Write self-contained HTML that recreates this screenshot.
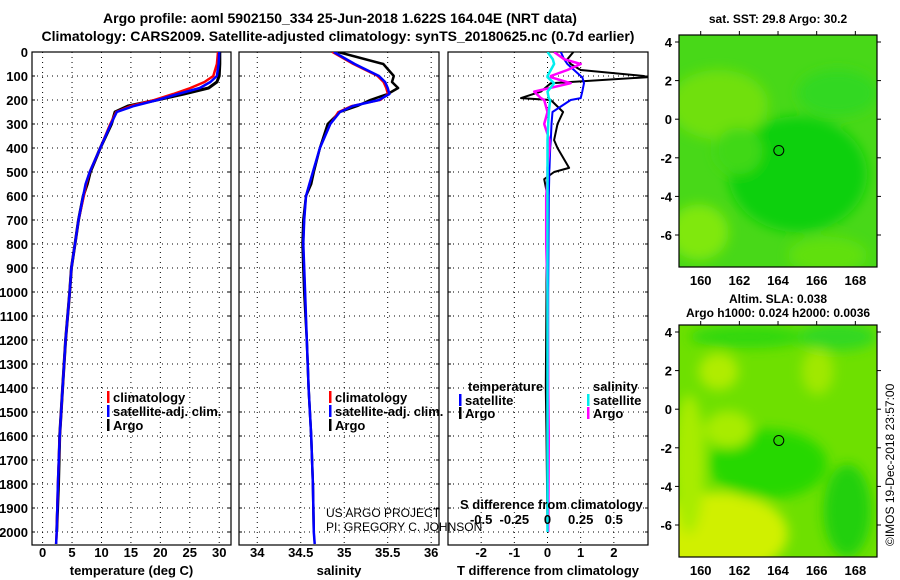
<!DOCTYPE html>
<html><head><meta charset="utf-8"><style>
html,body{margin:0;padding:0;background:#fff;}
svg{display:block;font-family:"Liberation Sans",Arial,sans-serif;font-weight:bold;}
</style></head><body>
<svg id="chart" width="900" height="580" viewBox="0 0 900 580" xmlns="http://www.w3.org/2000/svg">
<defs>
<filter id="blur6"><feGaussianBlur stdDeviation="6"/></filter>
<clipPath id="clipm1"><rect x="679" y="35" width="198" height="232"/></clipPath>
<clipPath id="clipm2"><rect x="679" y="325" width="198" height="232"/></clipPath>
<clipPath id="clipp1"><rect x="32" y="52" width="199" height="493"/></clipPath>
<clipPath id="clipp2"><rect x="239" y="52" width="200" height="493"/></clipPath>
<clipPath id="clipp3"><rect x="448" y="52" width="200" height="493"/></clipPath>
</defs>
<text x="340" y="23" font-size="14" text-anchor="middle">Argo profile: aoml 5902150_334 25-Jun-2018 1.622S 164.04E (NRT data)</text>
<text x="338" y="41" font-size="14" text-anchor="middle">Climatology: CARS2009. Satellite-adjusted climatology: synTS_20180625.nc (0.7d earlier)</text>
<g id="g-maps"></g>
<g id="g-panels"></g>
</svg>
<script>
// ---------- data ----------
const depths = [0,50,100,125,150,175,200,225,250,300,400,500,550,600,700,800,900,1000,1200,1400,1600,1800,2000,2050];
const tempArgo = [30.1,30.1,30.0,29.6,28.2,24.0,19.4,14.5,12.3,11.7,9.8,8.1,7.6,6.9,6.1,5.5,4.9,4.6,3.9,3.4,2.9,2.7,2.4,null];
const tempClim = [29.8,29.6,29.0,27.5,25.1,22.2,19.0,15.0,12.5,11.5,9.8,8.0,7.4,7.0,6.1,5.5,4.9,4.6,3.9,3.4,2.9,2.6,2.4,2.3];
const tempSat  = [30.0,29.9,29.6,28.5,26.7,23.0,19.5,15.5,12.6,11.6,9.8,8.0,7.3,6.9,6.1,5.5,4.9,4.6,3.9,3.4,2.9,2.6,2.4,2.3];
const salArgo = [34.93,35.45,35.57,35.55,35.62,35.5,35.3,35.15,34.95,34.81,34.72,34.65,34.62,34.56,34.53,34.52,34.53,34.54,34.57,34.59,34.62,34.64,34.65,null];
const salClim = [34.86,35.1,35.38,35.45,35.48,35.5,35.42,35.08,34.93,34.84,34.72,34.64,34.6,34.56,34.54,34.53,34.54,34.55,34.57,34.59,34.62,34.64,34.65,34.66];
const salSat  = [34.88,35.12,35.4,35.47,35.5,35.52,35.4,35.1,34.95,34.84,34.72,34.64,34.6,34.56,34.54,34.53,34.54,34.55,34.57,34.59,34.62,34.64,34.65,34.66];
const dDepths = [0,30,50,75,100,105,130,165,192,200,250,300,367,400,483,500,530,600,800,1000,1400,1600,2000];
const tDiffArgo = [0.78,0.6,0.7,1.0,2.9,3.0,0.1,-0.2,-0.8,0.1,0.47,0.3,0.2,0.3,0.65,0.2,-0.1,0.0,-0.03,-0.03,-0.05,-0.03,0.0];
const tDiffSat  = [0.4,0.5,0.6,0.8,1.0,1.05,1.1,1.05,1.0,0.7,0.15,0.12,0.1,0.08,0.06,0.05,0.05,0.04,0.03,0.02,0.02,0.02,0.02];
const sDiffSat  = [0.0,0.04,0.05,0.025,0.0,0.0,0.05,0.0,0.01,0.02,0.01,0.005,0.0,0.0,0.0,0.0,0.0,0.0,0.0,0.0,0.0,0.0,0.0];
const sDiffArgo = [0.05,0.125,0.25,0.15,0.025,0.025,0.175,-0.1,-0.05,-0.025,0.0,-0.025,0.015,0.015,0.0,0.0,0.0,-0.01,-0.01,0.0,0.005,0.01,0.005];
const depthTicks = [0,100,200,300,400,500,600,700,800,900,1000,1100,1200,1300,1400,1500,1600,1700,1800,1900,2000];
const tTicks = [0,5,10,15,20,25,30];
const sTicks = [34,34.5,35,35.5,36];
const dTTicks = [-2,-1,0,1,2];
const dSTicks = [-0.5,-0.25,0,0.25,0.5];
const latTicks = [4,2,0,-2,-4,-6];
const lonTicks = [160,162,164,166,168];
const floatLon = 164.04, floatLat = -1.62;

const NS='http://www.w3.org/2000/svg';
function el(tag, attrs, parent, txt){const e=document.createElementNS(NS,tag);for(const k in attrs)e.setAttribute(k,attrs[k]);if(txt!==undefined)e.textContent=txt;parent.appendChild(e);return e;}
const gP=document.getElementById('g-panels');
const gM=document.getElementById('g-maps');
const Y0=52,Y1=545;
const yD = d => Y0 + d*0.24;
const S_TO_T = 4;

function makeX(left,right,vmin,vmax){return v => left + (v-vmin)/(vmax-vmin)*(right-left);}
const panels=[
 {name:'temperature-panel',l:32,r:231,min:-1.8,max:32,ticks:tTicks,grid:tTicks,label:'temperature (deg C)',clip:'clipp1'},
 {name:'salinity-panel',l:239,r:439,min:33.79,max:36.09,ticks:sTicks,grid:sTicks,label:'salinity',clip:'clipp2'},
 {name:'difference-panel',l:448,r:648,min:-3,max:3.03,ticks:dTTicks,grid:dTTicks,label:'T difference from climatology',clip:'clipp3'}
];
panels.forEach((p,pi)=>{
  const g=el('g',{},gP);
  
  
  const X=makeX(p.l,p.r,p.min,p.max); p.X=X;
  depthTicks.forEach(d=>{ if(d===0) return;
    const ln=el('line',{x1:p.l,x2:p.r,y1:yD(d),y2:yD(d),stroke:'#000','stroke-width':1,'stroke-dasharray':'1,4'},g);
    
    
    el('line',{x1:p.l,x2:p.l+3,y1:yD(d),y2:yD(d),stroke:'#000'},g);
    el('line',{x1:p.r-3,x2:p.r,y1:yD(d),y2:yD(d),stroke:'#000'},g);
  });
  p.grid.forEach(v=>{
    const ln=el('line',{x1:X(v),x2:X(v),y1:Y0,y2:Y1,stroke:'#000','stroke-width':1,'stroke-dasharray':'1,4'},g);
    
    
  });
  p.ticks.forEach(v=>{
    const t=el('text',{x:X(v),y:557,'font-size':13,'text-anchor':'middle'},g,String(v));
    
    
  });
  const lab=el('text',{x:(p.l+p.r)/2,y:575,'font-size':13,'text-anchor':'middle'},g,p.label);
  
  
  const fr=el('rect',{x:p.l,y:Y0,width:p.r-p.l,height:Y1-Y0,fill:'none',stroke:'#000','stroke-width':1.2},g);
  
  
});
depthTicks.forEach(d=>{
  const t=el('text',{x:28,y:yD(d)+5,'font-size':13,'text-anchor':'end'},gP,String(d));
  
  
});
function series(p,vals,dep,color,w,name,scale){
  const pts=[];
  vals.forEach((v,i)=>{ if(v===null) return; pts.push(p.X(v*(scale||1)).toFixed(1)+','+yD(dep[i]).toFixed(1)); });
  const pl=el('polyline',{points:pts.join(' '),fill:'none',stroke:color,'stroke-width':w,'clip-path':'url(#'+p.clip+')','stroke-linejoin':'round'},gP);
  
  
}
series(panels[0],tempArgo,depths,'#000',3,'argo-temperature-line');
series(panels[0],tempClim,depths,'#f00',2.5,'climatology-temperature-line');
series(panels[0],tempSat,depths,'#00f',2.5,'satellite-temperature-line');
series(panels[1],salArgo,depths,'#000',2.5,'argo-salinity-line');
series(panels[1],salClim,depths,'#f00',2,'climatology-salinity-line');
series(panels[1],salSat,depths,'#00f',2.5,'satellite-salinity-line');
series(panels[2],tDiffArgo,dDepths,'#000',2,'argo-t-difference-line');
series(panels[2],tDiffSat,dDepths,'#00f',2,'satellite-t-difference-line');
series(panels[2],sDiffArgo,dDepths,'#f0f',2.5,'argo-s-difference-line',S_TO_T);
series(panels[2],sDiffSat,dDepths,'#0ee',2.5,'satellite-s-difference-line',S_TO_T);
const st=el('text',{x:460,y:509,'font-size':13},gP,'S difference from climatology');


dSTicks.forEach(v=>{
  const t=el('text',{x:panels[2].X(v*S_TO_T),y:524,'font-size':13,'text-anchor':'middle'},gP,String(v));
  
  
});
function legend(x,y,color,text,name){
  const g=el('g',{},gP);
  
  
  el('rect',{x:x,y:y-11,width:2.5,height:12,fill:color},g);
  el('text',{x:x+6,y:y,'font-size':13},g,text);
}
legend(107,402,'#f00','climatology','legend-climatology');
legend(107,416,'#00f','satellite-adj. clim.','legend-satellite-adj');
legend(107,430,'#000','Argo','legend-argo');
legend(329,402,'#f00','climatology','legend-climatology-sal');
legend(329,416,'#00f','satellite-adj. clim.','legend-satellite-adj-sal');
legend(329,430,'#000','Argo','legend-argo-sal');
el('text',{x:468,y:391,'font-size':13},gP,'temperature');
legend(459,405,'#00f','satellite','legend-t-satellite');
legend(459,418,'#000','Argo','legend-t-argo');
el('text',{x:593,y:391,'font-size':13},gP,'salinity');
legend(587,405,'#0ee','satellite','legend-s-satellite');
legend(587,418,'#f0f','Argo','legend-s-argo');
el('text',{x:326,y:517,'font-size':12,'font-weight':'normal'},gP,'US ARGO PROJECT');
el('text',{x:326,y:531,'font-size':12,'font-weight':'normal'},gP,'PI: GREGORY C. JOHNSON');

function map(top,title1,title2,blobs,base,name,clip){
  const g=el('g',{},gM);
  
  
  const L=679,R=877,B=top+232;
  const lx=v=>700.7+(v-160)*19.33;
  const ly=v=>top+7+(4-v)*19.3;
  const cg=el('g',{'clip-path':'url(#'+clip+')'},g);
  el('rect',{x:L,y:top,width:R-L,height:232,fill:base},cg);
  const bg=el('g',{filter:'url(#blur6)'},cg);
  blobs.forEach(b=>el('ellipse',{cx:L+b[0]*198,cy:top+b[1]*232,rx:b[2]*198,ry:b[3]*232,fill:b[4]},bg));
  el('rect',{x:L,y:top,width:R-L,height:232,fill:'none',stroke:'#000','stroke-width':1.2},g);
  latTicks.forEach(v=>{
    el('text',{x:672,y:ly(v)+5,'font-size':13,'text-anchor':'end'},g,String(v));
    el('line',{x1:L-4,x2:L,y1:ly(v),y2:ly(v),stroke:'#000'},g);
    el('line',{x1:R,x2:R+4,y1:ly(v),y2:ly(v),stroke:'#000'},g);
  });
  lonTicks.forEach(v=>{
    el('text',{x:lx(v),y:B+18,'font-size':13,'text-anchor':'middle'},g,String(v));
    el('line',{x1:lx(v),x2:lx(v),y1:top-4,y2:top,stroke:'#000'},g);
  });
  const c=el('circle',{cx:lx(floatLon),cy:ly(floatLat),r:5,fill:'none',stroke:'#000','stroke-width':1},g);
  
  
  if(title2){
    el('text',{x:778,y:top-22,'font-size':12,'text-anchor':'middle'},g,title1);
    el('text',{x:778,y:top-8,'font-size':12,'text-anchor':'middle'},g,title2);
  } else el('text',{x:778,y:top-12,'font-size':12,'text-anchor':'middle'},g,title1);
}
map(35,'sat. SST: 29.8 Argo: 30.2',null,[
 [0.2,0.3,0.25,0.15,'#70e010'],[0.1,0.85,0.15,0.12,'#80e810'],[0.6,0.6,0.35,0.25,'#10d010'],
 [0.8,0.25,0.2,0.1,'#30d820'],[0.3,0.5,0.12,0.1,'#40d818'],[0.75,0.95,0.2,0.08,'#60e010']
],'#48d818','sst-map','clipm1');
map(325,'Altim. SLA: 0.038','Argo h1000: 0.024 h2000: 0.0036',[
 [0.2,0.9,0.35,0.18,'#d0f000'],[0.05,0.6,0.08,0.3,'#a8ec00'],[0.45,0.6,0.3,0.15,'#28d800'],
 [0.2,0.2,0.1,0.08,'#b0ec00'],[0.7,0.2,0.08,0.1,'#a0e800'],[0.85,0.8,0.12,0.2,'#20d010'],
 [0.25,0.45,0.12,0.08,'#a8ec00'],[0.35,0.05,0.3,0.05,'#30d810'],[0.8,0.05,0.2,0.06,'#30d820']
],'#6ee000','sla-map','clipm2');
const ts=el('text',{x:0,y:0,'font-size':12,'font-weight':'normal',transform:'translate(894,546) rotate(-90)'},gM,'©IMOS 19-Dec-2018 23:57:00');


</script>
</body></html>
